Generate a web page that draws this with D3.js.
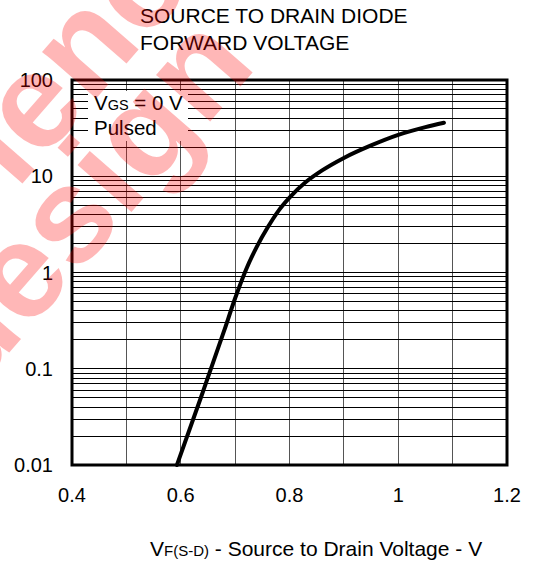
<!DOCTYPE html>
<html>
<head>
<meta charset="utf-8">
<script src="https://cdn.jsdelivr.net/npm/d3@7"></script>
<style>
  body { margin: 0; background: #fff; }
  text { font-family: "Liberation Sans", Arial, sans-serif; fill: #000; }
</style>
</head>
<body>
<svg id="chart"></svg>
<script>
const width = 536, height = 566;

// curve: forward voltage (V) vs source current (A)
const vfValues = [0.593, 0.64, 0.68, 0.70, 0.72, 0.74, 0.76, 0.78, 0.80, 0.83, 0.86, 0.90, 0.95, 1.00, 1.05, 1.084];
const isValues = [0.01, 0.056, 0.25, 0.54, 1.07, 1.86, 2.95, 4.4, 6.0, 8.7, 11.5, 15.5, 20.9, 26.9, 32.4, 36.0];

const xTicks = [0.4, 0.6, 0.8, 1, 1.2];
const xGrid = [0.4, 0.5, 0.6, 0.7, 0.8, 0.9, 1.0, 1.1, 1.2];
const yTicks = [0.01, 0.1, 1, 10, 100];
const yTickLabels = ["0.01", "0.1", "1", "10", "100"];

const plotLeft = 72, plotRight = 507, plotTop = 80, plotBottom = 465;

const x = d3.scaleLinear().domain([0.4, 1.2]).range([plotLeft, plotRight]);
const y = d3.scaleLog().domain([0.01, 100]).range([plotBottom, plotTop]);

const svg = d3.select("#chart")
    .attr("width", width)
    .attr("height", height);

// log grid: 1..9 in every decade
let yGrid = [];
for (let dec = 0.01; dec < 100; dec *= 10) {
    for (let k = 1; k < 10; k++) yGrid.push(+(dec * k).toPrecision(3));
}
yGrid.push(100);

const grid = svg.append("g").attr("shape-rendering", "crispEdges");

grid.selectAll(".vgrid")
    .data(xGrid)
    .enter().append("line")
    .attr("x1", d => x(d)).attr("x2", d => x(d))
    .attr("y1", plotTop).attr("y2", plotBottom)
    .attr("stroke", "#555")
    .attr("stroke-width", 1);

grid.selectAll(".hgrid")
    .data(yGrid)
    .enter().append("line")
    .attr("x1", plotLeft).attr("x2", plotRight)
    .attr("y1", d => y(d)).attr("y2", d => y(d))
    .attr("stroke", "#000")
    .attr("stroke-width", 1);

// legend box hides the grid behind it
svg.append("rect")
    .attr("x", 88).attr("y", 91)
    .attr("width", 100).attr("height", 50)
    .attr("fill", "#fff");

const leg1 = svg.append("text")
    .attr("x", 94).attr("y", 110)
    .style("font-size", "20.5px");
leg1.append("tspan").text("V");
leg1.append("tspan").style("font-size", "14.5px").text("GS");
leg1.append("tspan").text(" = 0 V");

svg.append("text")
    .attr("x", 94).attr("y", 135)
    .style("font-size", "20.5px")
    .text("Pulsed");

// curve
const pts = vfValues.map((v, i) => [v, isValues[i]]);
const line = d3.line()
    .x(d => x(d[0]))
    .y(d => y(d[1]))
    .curve(d3.curveMonotoneX);

svg.append("path")
    .datum(pts)
    .attr("d", line)
    .attr("fill", "none")
    .attr("stroke", "#000")
    .attr("stroke-width", 4)
    .attr("stroke-linecap", "round");

// frame
svg.append("rect")
    .attr("x", plotLeft).attr("y", plotTop)
    .attr("width", plotRight - plotLeft).attr("height", plotBottom - plotTop)
    .attr("fill", "none")
    .attr("stroke", "#000")
    .attr("stroke-width", 3);

// tick labels
svg.selectAll(".xlab")
    .data(xTicks)
    .enter().append("text")
    .attr("x", d => x(d))
    .attr("y", 502)
    .attr("text-anchor", "middle")
    .style("font-size", "20px")
    .text(d => d);

svg.selectAll(".ylab")
    .data(yTicks)
    .enter().append("text")
    .attr("x", 53)
    .attr("y", d => y(d) + 7)
    .attr("text-anchor", "end")
    .style("font-size", "20px")
    .text((d, i) => yTickLabels[i]);

// titles
svg.append("text").attr("x", 140).attr("y", 23)
    .style("font-size", "21px").text("SOURCE TO DRAIN DIODE");
svg.append("text").attr("x", 140).attr("y", 50)
    .style("font-size", "21px").text("FORWARD VOLTAGE");

const xt = svg.append("text")
    .attr("x", 150).attr("y", 556)
    .style("font-size", "21px");
xt.append("tspan").text("V");
xt.append("tspan").style("font-size", "15px").text("F(S-D)");
xt.append("tspan").text(" - Source to Drain Voltage - V");

// watermark on top
const wm = svg.append("g")
    .attr("opacity", 0.28)
    .style("pointer-events", "none");

wm.append("text")
    .attr("transform", "translate(39,111) rotate(-49)")
    .attr("x", -75).attr("y", 35)
    .style("font-size", "135px").style("font-weight", "bold")
    .style("fill", "#ff0000")
    .text("ience");

wm.append("text")
    .attr("transform", "translate(25,281) rotate(-49)")
    .attr("x", -120).attr("y", 35)
    .style("font-size", "135px").style("font-weight", "bold")
    .style("fill", "#ff0000")
    .text("design");
</script>
</body>
</html>
